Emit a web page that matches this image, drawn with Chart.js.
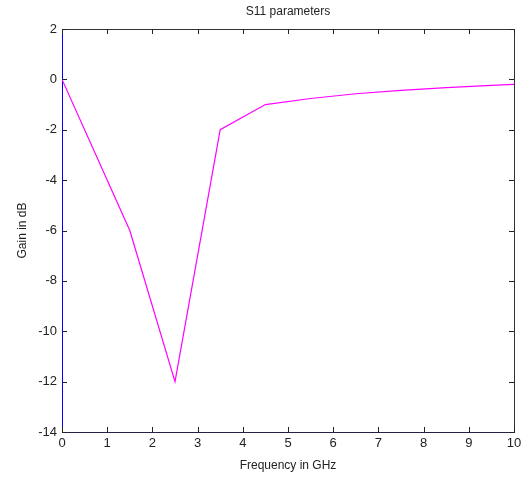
<!DOCTYPE html>
<html>
<head>
<meta charset="utf-8">
<script src="https://cdn.jsdelivr.net/npm/chart.js@4"></script>
<style>
  html, body { margin: 0; padding: 0; background: #fff; }
  #wrap { width: 529px; height: 477px; }
</style>
</head>
<body>
<div id="wrap"><canvas id="s11Chart" width="529" height="477"></canvas></div>
<script>
// frequency (GHz) and gain (dB)
const freqGHz = [0, 1.5, 2.5, 3.5, 4.5, 5.5, 6.5, 7.5, 8.5, 9.5, 10];
const gainDb = [0, -6, -12, -2, -1, -0.76, -0.57, -0.44, -0.33, -0.24, -0.2];
const xTicks = [0, 1, 2, 3, 4, 5, 6, 7, 8, 9, 10];
const yTicks = [2, 0, -2, -4, -6, -8, -10, -12, -14];

const FONT = 'Liberation Sans, Arial, sans-serif';

// MATLAB style: box around the axes, ticks pointing inwards, title over plot area
const matlabBox = {
    id: 'matlabBox',
    afterDraw(chart) {
        const { ctx, chartArea: a, scales } = chart;
        ctx.save();
        ctx.lineWidth = 1;
        ctx.strokeStyle = '#333';
        // top + right edges
        ctx.beginPath();
        ctx.moveTo(a.left, a.top + 0.5);
        ctx.lineTo(a.right + 0.5, a.top + 0.5);
        ctx.lineTo(a.right + 0.5, a.bottom);
        ctx.stroke();
        // ticks
        ctx.strokeStyle = '#222';
        ctx.beginPath();
        xTicks.forEach(v => {
            const x = Math.round(scales.x.getPixelForValue(v)) + 0.5;
            ctx.moveTo(x, a.bottom); ctx.lineTo(x, a.bottom - 5);
            ctx.moveTo(x, a.top); ctx.lineTo(x, a.top + 5);
        });
        yTicks.forEach(v => {
            const y = Math.round(scales.y.getPixelForValue(v)) + 0.5;
            ctx.moveTo(a.left, y); ctx.lineTo(a.left + 5, y);
            ctx.moveTo(a.right, y); ctx.lineTo(a.right - 5, y);
        });
        ctx.stroke();
        // title
        ctx.fillStyle = '#222';
        ctx.font = '12px ' + FONT;
        ctx.textAlign = 'center';
        ctx.textBaseline = 'middle';
        ctx.fillText('S11 parameters', (a.left + a.right) / 2, 12);
        ctx.restore();
    }
};

new Chart(document.getElementById('s11Chart'), {
    type: 'line',
    data: {
        datasets: [{
            label: 'S11',
            data: freqGHz.map((f, i) => ({ x: f, y: gainDb[i] })),
            borderColor: '#ff00ff',
            borderWidth: 1.2,
            pointRadius: 0,
            tension: 0,
            fill: false
        }]
    },
    options: {
        responsive: false,
        animation: false,
        layout: { padding: { top: 29, right: 15, left: 0, bottom: 0 } },
        plugins: {
            legend: { display: false },
            tooltip: { enabled: false }
        },
        scales: {
            x: {
                type: 'linear',
                min: 0, max: 10,
                afterFit(s) { s.height = 45; },
                afterBuildTicks(s) { s.ticks = xTicks.map(v => ({ value: v })); },
                grid: { drawOnChartArea: false, drawTicks: false },
                border: { color: '#222244', width: 1 },
                ticks: { color: '#222', font: { family: FONT, size: 13 }, padding: 4, maxRotation: 0 },
                title: { display: true, text: 'Frequency in GHz', color: '#222', font: { family: FONT, size: 12 }, padding: { top: 1 } }
            },
            y: {
                type: 'linear',
                min: -14, max: 2,
                afterFit(s) { s.width = 62; },
                afterBuildTicks(s) { s.ticks = yTicks.map(v => ({ value: v })); },
                grid: { drawOnChartArea: false, drawTicks: false },
                border: { color: '#0000ff', width: 1 },
                ticks: { color: '#222', font: { family: FONT, size: 13 }, padding: 5 },
                title: { display: true, text: 'Gain in dB', color: '#222', font: { family: FONT, size: 12 }, padding: { top: 15 } }
            }
        }
    },
    plugins: [matlabBox]
});
</script>
</body>
</html>
